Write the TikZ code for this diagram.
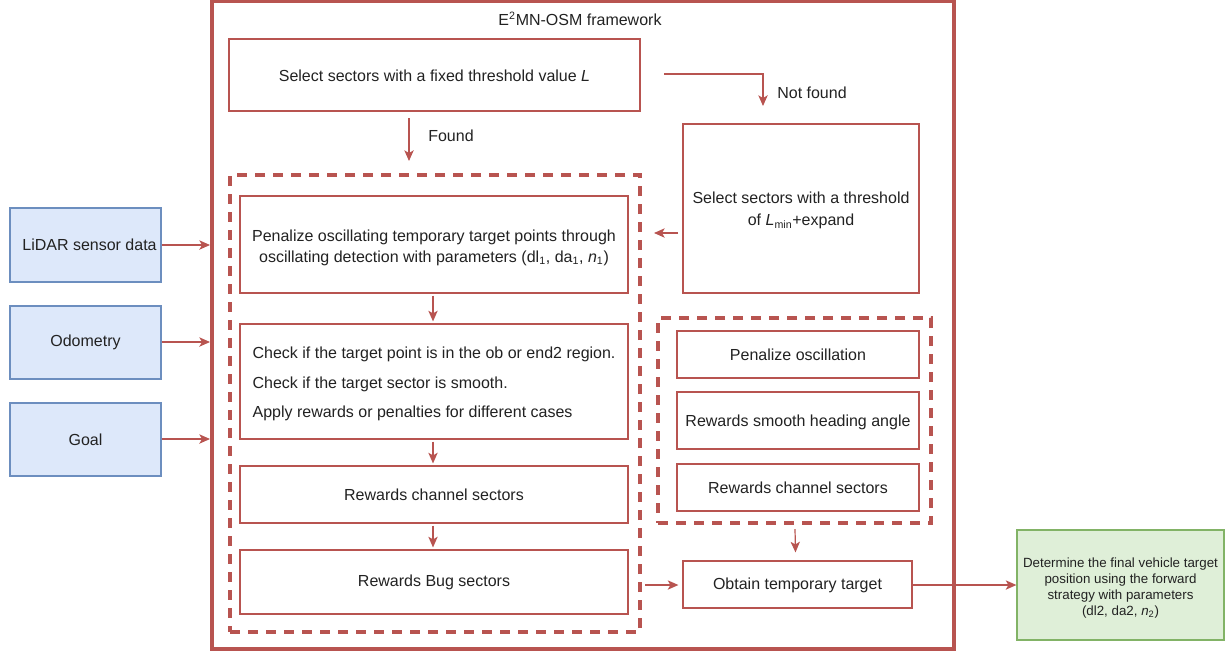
\documentclass[tikz,border=0pt]{standalone}
\usepackage{fontspec}
\setmainfont{Liberation Sans}
\usetikzlibrary{arrows.meta,fit,calc}
\definecolor{frame}{HTML}{B85450}
\definecolor{txt}{HTML}{222222}
\definecolor{bluefill}{HTML}{DDE8FA}
\definecolor{bluedraw}{HTML}{6C8EBF}
\definecolor{greenfill}{HTML}{DFEFD8}
\definecolor{greendraw}{HTML}{82B366}
\begin{document}
\begin{tikzpicture}[x=0.75pt,y=-0.75pt,
  font=\fontsize{12}{15.75}\selectfont, text=txt,
  box/.style={draw=frame, line width=0.9pt, fill=white, inner sep=0pt, align=center},
  inbox/.style={draw=bluedraw, line width=0.9pt, fill=bluefill, inner sep=0pt, align=center},
  outbox/.style={draw=greendraw, line width=0.9pt, fill=greenfill, inner sep=0pt, align=center},
  group/.style={draw=frame, line width=3pt, dash pattern=on 7.5pt off 6pt, inner sep=0pt},
  arr/.style={draw=frame, line width=0.9pt, -{Stealth[length=8pt,width=7pt,inset=2pt]}},
  lbl/.style={inner sep=1pt}]
\useasboundingbox (0,0) rectangle (1226,651);

% outer framework border
\node[draw=frame, line width=3pt, inner sep=0pt, fit={(212,1) (954,649)}] (fw) {};
\node[lbl] (title) at (580,19) {E\textsuperscript{2}MN-OSM framework};

% sector selection
\node[box, fit={(229,39) (640,111)}] (sel) {};
\node[lbl] at ($(sel.center)+(0,1)$) {Select sectors with a fixed threshold value \textit{L}};
\node[box, fit={(683,124) (919,293)}] (lmin) {};
\node[lbl, align=center, font=\fontsize{12}{17}\selectfont] at ($(lmin.center)+(0,2)$) {Select sectors with a threshold\\of \textit{L}\textsubscript{min}+expand};

% left dashed group
\node[group, fit={(230,175) (640,632)}] (lgrp) {};
\node[box, fit={(240,196) (628,293)}] (pen) {};
\node[lbl, align=center] at ($(pen.center)+(0,3)$) {Penalize oscillating temporary target points through\\oscillating detection with parameters (dl\textsubscript{1}, da\textsubscript{1}, \textit{n}\textsubscript{1})};
\node[box, fit={(240,324) (628,439)}] (chk) {};
\node[lbl, anchor=west] (chk1) at (251,354) {Check if the target point is in the ob or end2 region.};
\node[lbl, anchor=west] (chk2) at (251,384) {Check if the target sector is smooth.};
\node[lbl, anchor=west] (chk3) at (251,413) {Apply rewards or penalties for different cases};
\node[box, fit={(240,466) (628,523)}] (chan) {};
\node[lbl] at (chan.center) {Rewards channel sectors};
\node[box, fit={(240,550) (628,614)}] (bug) {};
\node[lbl] at (bug.center) {Rewards Bug sectors};

% right dashed group
\node[group, fit={(658,318) (931,523)}] (rgrp) {};
\node[box, fit={(677,331) (919,378)}] (posc) {};
\node[lbl] at (posc.center) {Penalize oscillation};
\node[box, fit={(677,392) (919,449)}] (rsmooth) {};
\node[lbl] at ($(rsmooth.center)+(0,1.5)$) {Rewards smooth heading angle};
\node[box, fit={(677,464) (919,511)}] (rchan) {};
\node[lbl] at (rchan.center) {Rewards channel sectors};

\node[box, fit={(683,561) (912,608)}] (obt) {};
\node[lbl] at ($(obt.center)+(0,0.5)$) {Obtain temporary target};

% output
\node[outbox, fit={(1017,530) (1224,640)}] (final) {};
\node[lbl, align=center, font=\fontsize{10}{11.8}\selectfont] at ($(final.center)+(0,3)$) {Determine the final vehicle target\\position using the forward\\strategy with parameters\\(dl2, da2, \textit{n}\textsubscript{2})};

% inputs
\node[inbox, fit={(10,208) (161,282)}] (lidar) {};
\node[lbl] at ($(lidar.center)+(4,0)$) {LiDAR sensor data};
\node[inbox, fit={(10,306) (161,379)}] (odo) {};
\node[lbl] at (odo.center) {Odometry};
\node[inbox, fit={(10,403) (161,476)}] (goal) {};
\node[lbl] at (goal.center) {Goal};

% connectors
\draw[arr] (lidar.east |- 0,245) -- (fw.west |- 0,245);
\draw[arr] (odo.east |- 0,342) -- (fw.west |- 0,342);
\draw[arr] (goal.east |- 0,439) -- (fw.west |- 0,439);

\coordinate (fA) at (409,118);
\coordinate (fB) at (409,161);
\draw[arr] (fA) -- (fB);
\node[lbl] (found) at (451,136) {Found};

\coordinate (nA) at (664,74);
\coordinate (nB) at (763,106);
\draw[arr] (nA) -| (nB);
\node[lbl] (notfound) at (812,93) {Not found};

\coordinate (lA) at (678,233);
\coordinate (lB) at (654,233);
\draw[arr] (lA) -- (lB);

\draw[arr] ($(pen.south)+(-1,2)$) -- ($(chk.north)+(-1,-2)$);
\draw[arr] ($(chk.south)+(-1,2)$) -- ($(chan.north)+(-1,-2)$);
\draw[arr] ($(chan.south)+(-1,2)$) -- ($(bug.north)+(-1,-2)$);

\draw[arr] ($(rgrp.south)+(0.5,4)$) -- ($(obt.north)+(-2,-8)$);
\coordinate (bA) at (645,585);
\draw[arr] (bA) -- ($(obt.west)+(-4,0.5)$);
\draw[arr] (obt.east |- 0,585) -- (final.west |- 0,585);
\end{tikzpicture}
\end{document}
